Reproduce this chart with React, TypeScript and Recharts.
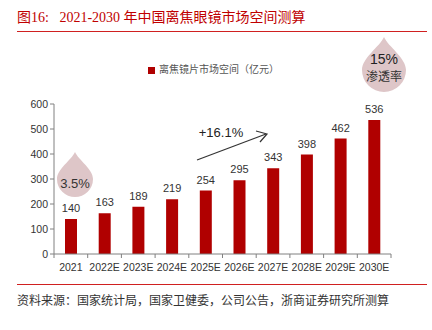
import { BarChart, Bar, XAxis, YAxis, Legend, LabelList } from 'recharts';

const YEARS = ['2021', '2022E', '2023E', '2024E', '2025E', '2026E', '2027E', '2028E', '2029E', '2030E'];
const MARKET = [140, 163, 189, 219, 254, 295, 343, 398, 462, 536];
const Y_TICKS = [0, 100, 200, 300, 400, 500, 600];

const RED = '#b00000';
const DROP = '#dec6c8';

const data = YEARS.map((year, i) => ({ year, value: MARKET[i] }));

function dropPath(cx: number, cy: number, r: number) {
  const ty = cy - 1.5 * r;
  return `M${cx},${ty} C${cx + 0.2 * r},${ty + 0.45 * r} ${cx + r},${cy - 0.55 * r} ${cx + r},${cy}
    A${r},${r} 0 1 1 ${cx - r},${cy}
    C${cx - r},${cy - 0.55 * r} ${cx - 0.2 * r},${ty + 0.45 * r} ${cx},${ty} Z`;
}

const XTick = (props: any) => {
  const { x, y, payload, index } = props;
  const band = 337 / YEARS.length;
  return (
    <g>
      <line x1={x - band / 2} y1={y - 8} x2={x - band / 2} y2={y - 4} stroke="#808080" />
      {index === YEARS.length - 1 && (
        <line x1={x + band / 2} y1={y - 8} x2={x + band / 2} y2={y - 4} stroke="#808080" />
      )}
      <text x={x} y={y + 9} textAnchor="middle" fontSize={10.5} fill="#333">
        {payload.value}
      </text>
    </g>
  );
};

export default function App() {
  return (
    <div style={{ position: 'fixed', left: 0, top: 0, width: 432, height: 330, background: '#fff', fontFamily: 'Arial, "Liberation Sans", sans-serif' }}>
      <div style={{ position: 'absolute', left: 17, top: 6, fontSize: 14, color: '#c00000', fontFamily: '"Liberation Serif", "Noto Sans CJK SC", serif', whiteSpace: 'nowrap' }}>
        图16:&nbsp;&nbsp;&nbsp;2021-2030 年中国离焦眼镜市场空间测算
      </div>
      <div style={{ position: 'absolute', left: 17, top: 31, width: 410, height: 1, background: '#d02020' }} />
      <BarChart width={432} height={330} data={data} margin={{ top: 104, right: 41, left: 0, bottom: 46 }}>
        <XAxis dataKey="year" height={30} axisLine={{ stroke: '#808080' }} tickLine={false} tick={<XTick />} interval={0} />
        <YAxis
          width={54}
          domain={[0, 600]}
          ticks={Y_TICKS}
          axisLine={{ stroke: '#808080' }}
          tickLine={{ stroke: '#808080' }}
          tickSize={4}
          tick={{ fontSize: 10.5, fill: '#333' }}
        />
        <Legend
          verticalAlign="middle"
          iconType="square"
          iconSize={7}
          wrapperStyle={{ position: 'absolute', top: 61, left: 148, width: 'auto', fontSize: 10, fontFamily: '"Noto Sans CJK SC", serif' }}
          formatter={(v: string) => <span style={{ color: '#555' }}>{v}</span>}
        />
        <Bar dataKey="value" name="离焦镜片市场空间（亿元）" fill={RED} barSize={12} isAnimationActive={false}>
          <LabelList dataKey="value" position="top" offset={7} fontSize={11} fill="#333" />
        </Bar>
      </BarChart>
      <svg width={432} height={330} style={{ position: 'absolute', left: 0, top: 0, pointerEvents: 'none' }}>
        <path d={dropPath(75, 179, 18)} fill={DROP} />
        <text x={75} y={188} textAnchor="middle" fontSize={13} fill="#333">3.5%</text>
        <path d={dropPath(384, 70, 22)} fill={DROP} />
        <text x={384} y={64} textAnchor="middle" fontSize={14} fill="#222">15%</text>
        <text x={384} y={81} textAnchor="middle" fontSize={12} fill="#333" fontFamily='"Noto Sans CJK SC", serif'>渗透率</text>
        <text x={221} y={137} textAnchor="middle" fontSize={13} fill="#222">+16.1%</text>
        <line x1={197} y1={160} x2={266} y2={134} stroke="#333" strokeWidth={1.2} />
        <polyline points="256,131 267,134 260,142" fill="none" stroke="#333" strokeWidth={1.2} />
      </svg>
      <div style={{ position: 'absolute', left: 17, top: 284, width: 410, height: 1, background: '#d02020' }} />
      <div style={{ position: 'absolute', left: 17, top: 291, fontSize: 12, color: '#333', fontFamily: '"Noto Sans CJK SC", serif', whiteSpace: 'nowrap' }}>
        资料来源：国家统计局，国家卫健委，公司公告，浙商证券研究所测算
      </div>
    </div>
  );
}
